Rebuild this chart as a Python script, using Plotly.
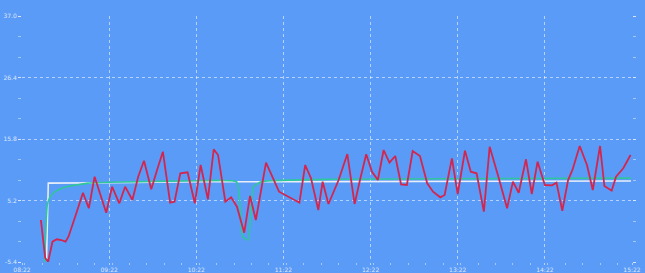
import plotly.graph_objects as go

DAY = "2024-05-01 "

red_times = ["08:35", "08:38", "08:40", "08:43", "08:46", "08:49", "08:52", "08:54", "08:59",
             "09:04", "09:08", "09:12", "09:20", "09:24", "09:29", "09:33", "09:38", "09:42",
             "09:46", "09:51", "09:55", "09:59", "10:04", "10:07", "10:11", "10:16", "10:21",
             "10:25", "10:30", "10:34", "10:37", "10:42", "10:46", "10:50", "10:55", "10:59",
             "11:03", "11:10", "11:19", "11:23", "11:28", "11:33", "11:37", "11:41", "11:46",
             "11:49", "11:53", "12:00", "12:06", "12:11", "12:15", "12:19", "12:23", "12:27",
             "12:31", "12:35", "12:39", "12:43", "12:47", "12:51", "12:56", "13:01", "13:05",
             "13:10", "13:13", "13:18", "13:22", "13:27", "13:31", "13:35", "13:40", "13:44",
             "13:50", "13:56", "14:00", "14:04", "14:09", "14:13", "14:17", "14:22", "14:27",
             "14:30", "14:34", "14:38", "14:41", "14:46", "14:51", "14:55", "15:00", "15:03",
             "15:08", "15:11", "15:16", "15:21"]
red_values = [1.84, -4.71, -5.35, -1.90, -1.49, -1.61, -1.90, -1.04, 2.70,
              6.54, 3.86, 9.30, 3.10, 7.58, 4.72, 7.58, 5.29, 9.30,
              12.06, 7.13, 10.46, 13.61, 4.82, 4.99, 9.89, 10.06, 4.72,
              11.32, 5.41, 14.02, 13.04, 4.99, 5.75, 4.13, -0.35, 5.98,
              1.84, 11.72, 6.72, 6.15, 5.58, 4.82, 11.32, 9.03, 3.56,
              8.44, 4.60, 8.73, 13.21, 4.60, 9.03, 13.16, 10.16, 8.73,
              13.90, 11.72, 12.87, 7.99, 7.87, 13.73, 12.87, 8.16, 6.72,
              5.75, 6.15, 12.47, 6.32, 13.78, 10.16, 9.89, 3.27, 14.47,
              9.30, 3.86, 8.44, 6.54, 12.30, 6.32, 11.89, 7.87, 7.82,
              8.27, 3.44, 8.73, 10.46, 14.59, 11.32, 7.01, 14.59, 7.70,
              6.89, 9.30, 10.75, 13.04]

green_times = ["08:37:30", "08:39:24", "08:41:18", "08:43:30", "08:48:12", "08:52:48",
               "08:59:12", "09:06:30", "09:22:36", "10:24:36", "10:49:48", "10:53:54",
               "10:57:48", "11:01:18", "11:07:12", "11:55:00", "13:16:42", "15:21:18"]
green_values = [-5.4, 4.42, 5.80, 6.49, 7.18, 7.58,
                7.87, 8.16, 8.34, 8.60, 8.40, -1.04,
                -1.61, 7.58, 8.45, 8.85, 8.95, 9.05]

white_times = ["08:38:54", "08:40:06", "09:22:36", "10:24:36", "11:55:00", "15:21:18"]
white_values = [-4.9, 8.20, 8.27, 8.42, 8.45, 8.55]

y_ticks = [-5.4, 5.2, 15.8, 26.4, 37.0]
y_labels = ["-5.4", "5.2", "15.8", "26.4", "37.0"]

x_start = "08:22"
x_end = "15:22"

BG = "#5a9bf7"
TXT = "rgba(235,242,255,0.9)"
GRID = "rgba(255,255,255,0.55)"

fig = go.Figure()
fig.add_trace(go.Scatter(x=[DAY + t for t in white_times], y=white_values, mode="lines",
                         line=dict(color="#e9eef8", width=1.6), showlegend=False))
fig.add_trace(go.Scatter(x=[DAY + t for t in green_times], y=green_values, mode="lines",
                         line=dict(color="#2ec79b", width=1.6, shape="spline", smoothing=0.4),
                         showlegend=False))
fig.add_trace(go.Scatter(x=[DAY + t for t in red_times], y=red_values, mode="lines",
                         line=dict(color="#d3264f", width=1.8), showlegend=False))

fig.update_layout(
    width=645, height=273,
    margin=dict(l=22, r=13, t=16, b=11),
    paper_bgcolor=BG, plot_bgcolor=BG,
    font=dict(family="DejaVu Sans", size=6, color=TXT),
    xaxis=dict(
        type="date", automargin=False,
        range=[DAY + x_start, DAY + x_end],
        tick0=DAY + x_start, dtick=3600000, tickformat="%H:%M",
        showgrid=True, gridcolor=GRID, griddash="dot", gridwidth=1,
        zeroline=False, showline=False,
        ticks="outside", ticklen=2, tickcolor=GRID,
        tickfont=dict(size=6, color=TXT),
        minor=dict(dtick=720000, ticks="outside", ticklen=2, tickcolor="rgba(255,255,255,0.45)",
                   showgrid=False),
    ),
    yaxis=dict(
        range=[-5.4, 37.0], automargin=False,
        tickmode="array", tickvals=y_ticks, ticktext=y_labels,
        showgrid=True, gridcolor=GRID, griddash="dot", gridwidth=1,
        zeroline=False, showline=False,
        ticks="outside", ticklen=3, tickcolor=GRID, mirror="ticks",
        tickfont=dict(size=6, color=TXT),
        minor=dict(tick0=-5.4, dtick=10.6 / 3, ticks="outside", ticklen=3,
                   tickcolor="rgba(255,255,255,0.45)", showgrid=False),
    ),
)

fig.write_html("out.html",
               config={"displayModeBar": False},
               post_script="document.body.style.margin='0';document.body.style.background='" + BG + "';")
